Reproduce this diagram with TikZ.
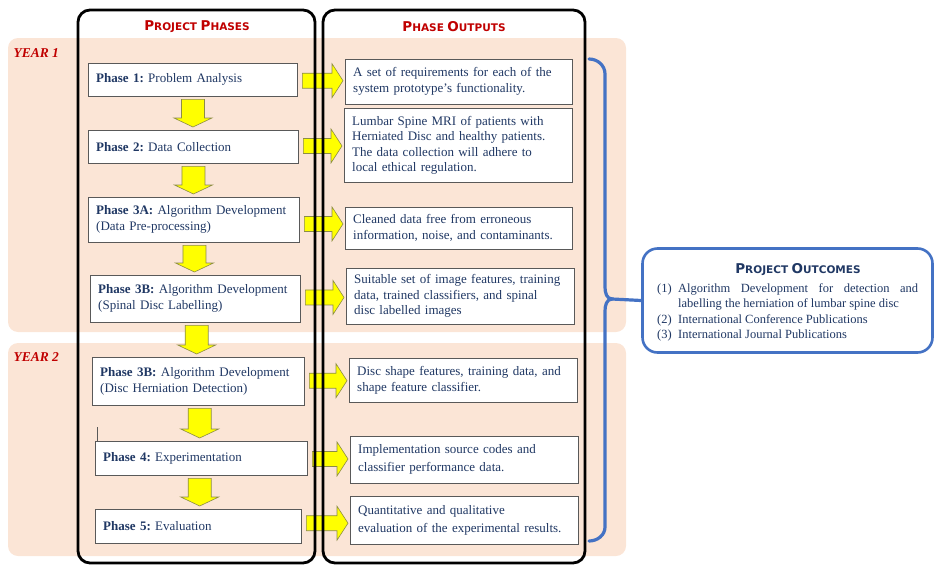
\documentclass[tikz,border=0pt]{standalone}
\usepackage{fontspec}
\setmainfont{Liberation Serif}
\newfontfamily\titlefont{DejaVu Sans}
\usetikzlibrary{calc}
\frenchspacing

\definecolor{peach}{HTML}{FBE5D6}
\definecolor{titlered}{HTML}{C00000}
\definecolor{navy}{HTML}{203864}
\definecolor{boxgray}{HTML}{595959}
\definecolor{arrowfill}{HTML}{FFFF00}
\definecolor{arrowedge}{HTML}{8C8C46}
\definecolor{braceblue}{HTML}{4472C4}

% fake small caps: big first letter, smaller capitals after it
\newcommand\fakesc[2]{{\fontsize{13.5}{13.5}\selectfont #1}{\fontsize{10.5}{10.5}\selectfont #2}}

% yellow block arrow pointing down, between two phase boxes
\newcommand\downblock[2]{%
  \path[blockarrow] let \p1=(#1.south), \p2=(#2.north) in
    ({(\x1+\x2)/2-11.5pt},\y1-3pt) -- ({(\x1+\x2)/2+11.5pt},\y1-3pt)
    -- ({(\x1+\x2)/2+11.5pt},\y2+12pt) -- ({(\x1+\x2)/2+19pt},\y2+12pt)
    -- ({(\x1+\x2)/2},\y2+3pt) -- ({(\x1+\x2)/2-19pt},\y2+12pt)
    -- ({(\x1+\x2)/2-11.5pt},\y2+12pt) -- cycle;}

% yellow block arrow pointing right, from a phase box to its output box
\newcommand\rightblock[2]{%
  \path[blockarrow] let \p1=(#1.east), \p2=(#2.west) in
    (\x1+5pt,{(\y1+\y2)/2+7.5pt}) -- (\x2-13pt,{(\y1+\y2)/2+7.5pt})
    -- (\x2-13pt,{(\y1+\y2)/2+17pt}) -- (\x2-2pt,{(\y1+\y2)/2})
    -- (\x2-13pt,{(\y1+\y2)/2-17pt}) -- (\x2-13pt,{(\y1+\y2)/2-7.5pt})
    -- (\x1+5pt,{(\y1+\y2)/2-7.5pt}) -- cycle;}

\begin{document}
\begin{tikzpicture}[x=1pt,y=-1pt,
    band/.style={fill=peach,rounded corners=10pt},
    column/.style={draw=black,line width=2.8pt,rounded corners=12pt},
    coltitle/.style={text=titlered,font=\titlefont\bfseries},
    yearlabel/.style={text=titlered,font=\fontsize{13.5}{13.5}\selectfont\bfseries\itshape,anchor=west},
    phasebox/.style={draw=boxgray,fill=white,anchor=north west,inner xsep=8pt,
      align=left,text=navy,font=\fontsize{13}{16}\selectfont},
    outbox/.style={phasebox},
    blockarrow/.style={fill=arrowfill,draw=arrowedge,line width=0.6pt},
    brace/.style={draw=braceblue,line width=3.2pt,line cap=round}]
  \useasboundingbox (0,0) rectangle (940,573);

  % year bands
  \fill[band] (8,38) rectangle (626,332);
  \fill[band] (8,343) rectangle (626,556);
  \node[yearlabel] (y1) at (10,53) {YEAR 1};
  \node[yearlabel] (y2) at (10,357) {YEAR 2};

  % phases
  \node[phasebox,text width=193pt,minimum height=33pt] (p1) at (88,63)
    {\textbf{Phase 1:} Problem Analysis};
  \node[phasebox,text width=194pt,minimum height=33pt] (p2) at (88,130)
    {\textbf{Phase 2:} Data Collection};
  \node[phasebox,text width=195pt,minimum height=45pt] (p3a) at (88,197)
    {\textbf{Phase 3A:} Algorithm Development\\(Data Pre-processing)};
  \node[phasebox,text width=194pt,minimum height=47pt] (p3b) at (90,275)
    {\textbf{Phase 3B:} Algorithm Development\\(Spinal Disc Labelling)};
  \node[phasebox,text width=196pt,minimum height=48pt] (p3c) at (92,357)
    {\textbf{Phase 3B:} Algorithm Development\\(Disc Herniation Detection)};
  \node[phasebox,text width=196pt,minimum height=34pt] (p4) at (95,441)
    {\textbf{Phase 4:} Experimentation};
  \node[phasebox,text width=190pt,minimum height=34pt] (p5) at (95,509)
    {\textbf{Phase 5:} Evaluation};
  \draw[boxgray,line width=0.6pt] (97,427) -- (97,441);

  % outputs
  \node[outbox,text width=211pt,minimum height=45pt] (o1) at (345,59)
    {A set of requirements for each of the\\system prototype's functionality.};
  \node[outbox,text width=212pt,minimum height=74pt,font=\fontsize{13}{15.5}\selectfont] (o2) at (344,108)
    {Lumbar Spine MRI of patients with\\Herniated Disc and healthy patients.\\
     The data collection will adhere to\\local ethical regulation.};
  \node[outbox,text width=211pt,minimum height=42pt] (o3) at (345,207)
    {Cleaned data free from erroneous\\information, noise, and contaminants.};
  \node[outbox,text width=212pt,minimum height=56pt,font=\fontsize{13}{15.5}\selectfont] (o4) at (346,268)
    {Suitable set of image features, training\\data, trained classifiers, and spinal\\
     disc labelled images};
  \node[outbox,text width=212pt,minimum height=44pt] (o5) at (349,358)
    {Disc shape features, training data, and\\shape feature classifier.};
  \node[outbox,text width=212pt,minimum height=47pt,font=\fontsize{13}{18}\selectfont] (o6) at (350,436)
    {Implementation source codes and\\classifier performance data.};
  \node[outbox,text width=212pt,minimum height=48pt,font=\fontsize{13}{18}\selectfont] (o7) at (350,496)
    {Quantitative and qualitative\\evaluation of the experimental results.};

  % arrows
  \downblock{p1}{p2}
  \downblock{p2}{p3a}
  \downblock{p3a}{p3b}
  \downblock{p3b}{p3c}
  \downblock{p3c}{p4}
  \downblock{p4}{p5}
  \rightblock{p1}{o1}
  \rightblock{p2}{o2}
  \rightblock{p3a}{o3}
  \rightblock{p3b}{o4}
  \rightblock{p3c}{o5}
  \rightblock{p4}{o6}
  \rightblock{p5}{o7}

  % columns
  \draw[column] (78,10) rectangle (315,563);
  \draw[column] (323,10) rectangle (585,563);
  \node[coltitle] (phasetitle) at (197,27) {\fakesc{P}{ROJECT} \fakesc{P}{HASES}};
  \node[coltitle] (outtitle) at (454,27) {\fakesc{P}{HASE} \fakesc{O}{UTPUTS}};

  % outcomes
  \node[draw=braceblue,line width=2.6pt,rounded corners=15pt,fill=white,
    minimum width=290pt,minimum height=104pt] (outcome) at (787.5,300.5) {};
  \node[text=navy,font=\titlefont\bfseries] (outtitle2) at (798,270)
    {\fakesc{P}{ROJECT} \fakesc{O}{UTCOMES}};
  \node[anchor=north west,inner sep=0pt,text=navy,font=\fontsize{12.5}{15.5}\selectfont]
    (outlist) at (657,283) {\parbox{261pt}{%
      \hangindent=21pt\hangafter=1\makebox[21pt][l]{(1)}Algorithm Development for detection
      and\linebreak labelling the herniation of lumbar spine disc\par
      \makebox[21pt][l]{(2)}International Conference Publications\par
      \makebox[21pt][l]{(3)}International Journal Publications}};

  % brace
  \coordinate (bracetip) at (612,299);
  \draw[brace] (589,59) to[out=0,in=90] (605,74) -- (605,287)
    to[out=-90,in=180] (bracetip) to[out=180,in=90] (605,311)
    -- (605,527) to[out=-90,in=0] (589,541);
  \draw[brace,line cap=butt] (bracetip) -- (outcome.west);
\end{tikzpicture}
\end{document}
